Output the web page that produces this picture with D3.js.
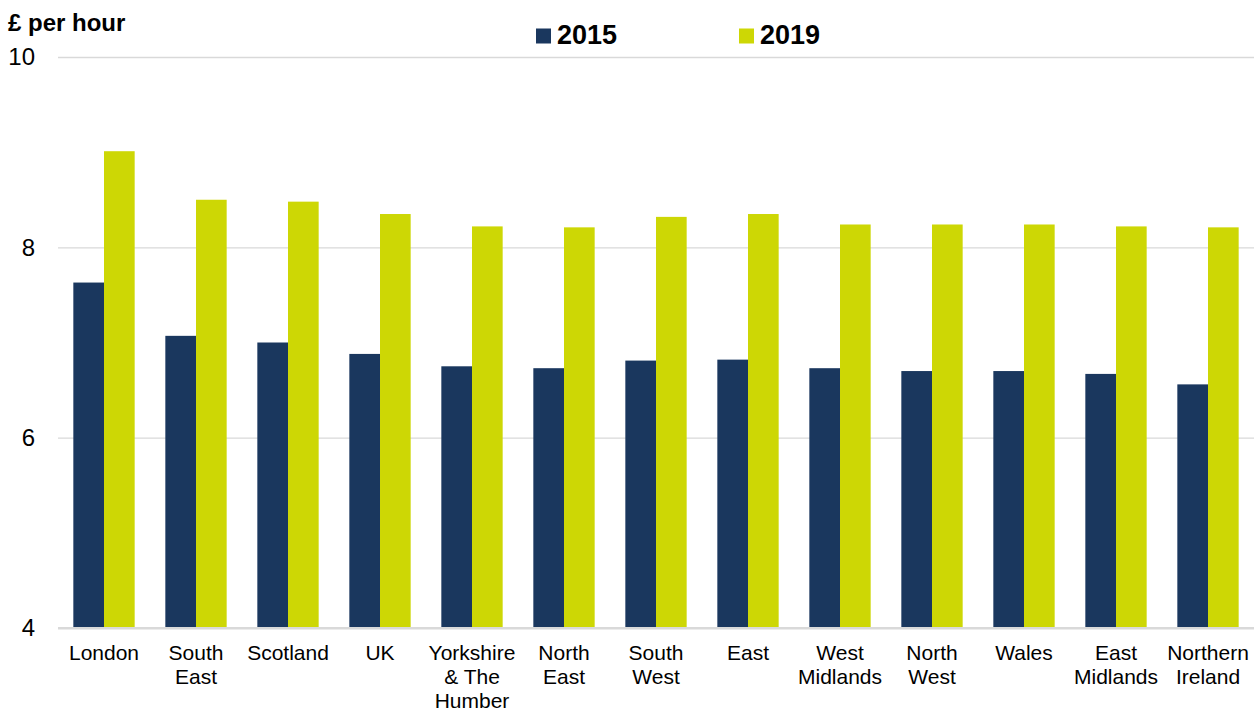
<!DOCTYPE html>
<html>
<head>
<meta charset="utf-8">
<script src="https://cdn.jsdelivr.net/npm/d3@7"></script>
<style>
  html, body { margin: 0; padding: 0; background: #fff; }
  svg { display: block; font-family: "Liberation Sans", Arial, sans-serif; }
</style>
</head>
<body>
<svg id="chart" width="1255" height="711"></svg>
<script>
// Regions, with "\n" marking where each axis label wraps
const categories = [
  "London", "South\nEast", "Scotland", "UK", "Yorkshire\n& The\nHumber",
  "North\nEast", "South\nWest", "East", "West\nMidlands", "North\nWest",
  "Wales", "East\nMidlands", "Northern\nIreland"
];
const seriesNames = ["2015", "2019"];
const values2015 = [7.63, 7.07, 7.00, 6.88, 6.75, 6.73, 6.81, 6.82, 6.73, 6.70, 6.70, 6.67, 6.56];
const values2019 = [9.01, 8.50, 8.48, 8.35, 8.22, 8.21, 8.32, 8.35, 8.24, 8.24, 8.24, 8.22, 8.21];
const yTicks = [4, 6, 8, 10];
const axisTitle = "£ per hour";

const colors = { "2015": "#1a375e", "2019": "#cdd705" };

const svg = d3.select("#chart");
const plotLeft = 58, plotRight = 1254, plotTop = 57, plotBottom = 628;

const x0 = d3.scaleBand()
  .domain(categories)
  .range([plotLeft, plotRight])
  .paddingInner(1 / 3)
  .paddingOuter(1 / 6);

const x1 = d3.scaleBand()
  .domain(seriesNames)
  .range([0, x0.bandwidth()]);

const y = d3.scaleLinear().domain([4, 10]).range([plotBottom, plotTop]);

// Horizontal gridlines with value labels
const yAxis = d3.axisLeft(y)
  .tickValues(yTicks)
  .tickFormat(d3.format("d"))
  .tickSize(-(plotRight - plotLeft))
  .tickSizeOuter(0)
  .tickPadding(23);

const yg = svg.append("g")
  .attr("transform", `translate(${plotLeft},0)`)
  .call(yAxis);
yg.select(".domain").remove();
yg.selectAll(".tick line")
  .attr("stroke", "#d9d9d9")
  .attr("stroke-width", d => d === 4 ? 2 : 1.3);
yg.selectAll(".tick text")
  .attr("font-size", 24)
  .attr("fill", "#000")
  .attr("font-family", "Liberation Sans, Arial, sans-serif");

// Grouped bars
const rows = categories.map((c, i) => ({
  category: c,
  values: [
    { key: "2015", value: values2015[i] },
    { key: "2019", value: values2019[i] }
  ]
}));

const groups = svg.append("g").selectAll("g")
  .data(rows)
  .join("g")
  .attr("transform", d => `translate(${x0(d.category)},0)`);

groups.selectAll("rect")
  .data(d => d.values)
  .join("rect")
  .attr("x", d => x1(d.key))
  .attr("width", x1.bandwidth())
  .attr("y", d => y(d.value))
  .attr("height", d => y(4) - y(d.value))
  .attr("fill", d => colors[d.key]);

// Redraw the baseline over the bar bottoms
svg.append("line")
  .attr("x1", plotLeft).attr("x2", plotRight)
  .attr("y1", y(4)).attr("y2", y(4))
  .attr("stroke", "#d9d9d9").attr("stroke-width", 2);

// Category labels, wrapped on several lines
const labels = svg.append("g").selectAll("text")
  .data(categories)
  .join("text")
  .attr("text-anchor", "middle")
  .attr("font-size", 21)
  .attr("fill", "#000")
  .attr("x", d => x0(d) + x0.bandwidth() / 2)
  .attr("y", 660);

labels.selectAll("tspan")
  .data(d => d.split("\n").map(line => ({ line, cx: x0(d) + x0.bandwidth() / 2 })))
  .join("tspan")
  .attr("x", d => d.cx)
  .attr("dy", (d, i) => i === 0 ? 0 : 24)
  .text(d => d.line);

// Unit title
svg.append("text")
  .attr("x", 8)
  .attr("y", 31)
  .attr("font-size", 24)
  .attr("font-weight", "bold")
  .attr("fill", "#000")
  .text(axisTitle);

// Legend
const legendX = [536, 739];
const legend = svg.append("g").selectAll("g")
  .data(seriesNames)
  .join("g")
  .attr("transform", (d, i) => `translate(${legendX[i]},0)`);

legend.append("rect")
  .attr("x", 0).attr("y", 28.5)
  .attr("width", 15).attr("height", 15)
  .attr("fill", d => colors[d]);

legend.append("text")
  .attr("x", 21)
  .attr("y", 44.3)
  .attr("font-size", 27)
  .attr("font-weight", "bold")
  .attr("fill", "#000")
  .text(d => d);
</script>
</body>
</html>
